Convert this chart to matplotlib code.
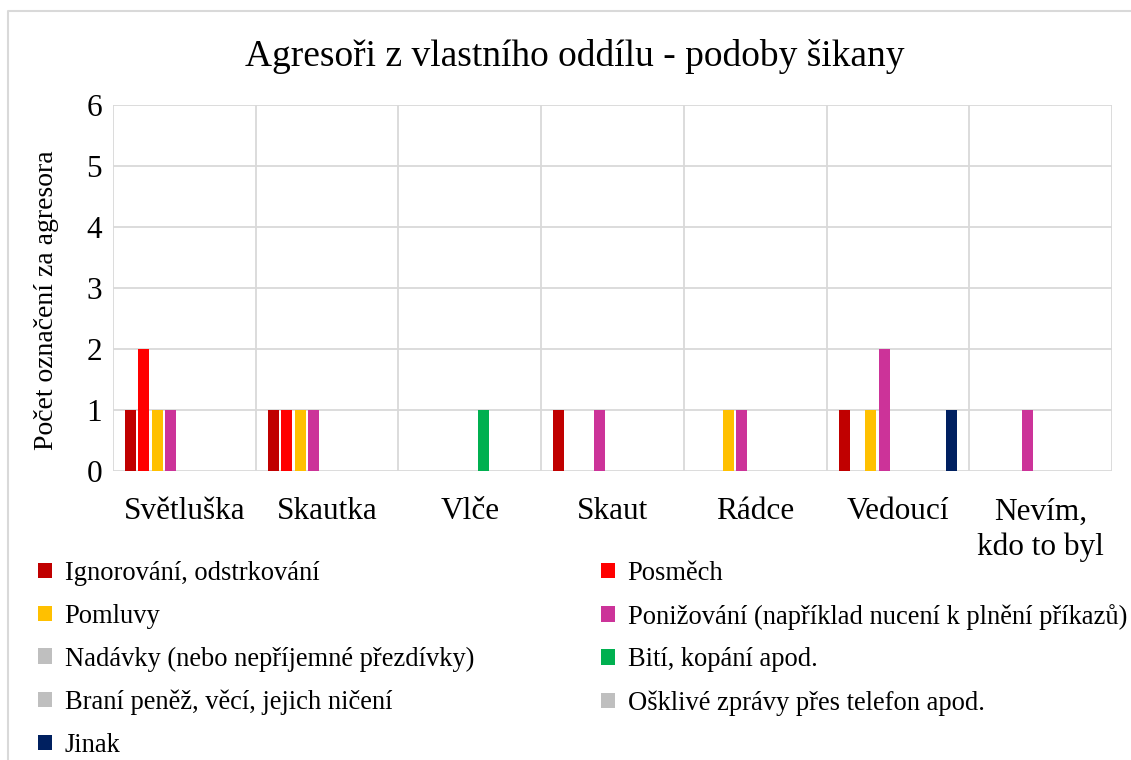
import numpy as np
import matplotlib
matplotlib.use('Agg')
import matplotlib.pyplot as plt
from matplotlib.patches import Patch
from matplotlib.lines import Line2D

plt.rcParams['font.family'] = ['Liberation Serif', 'DejaVu Serif']

# Data
categories = ['Světluška', 'Skautka', 'Vlče', 'Skaut', 'Rádce', 'Vedoucí', 'Nevím,\nkdo to byl']
series_names = [
    'Ignorování, odstrkování',
    'Posměch',
    'Pomluvy',
    'Ponižování (například nucení k plnění příkazů)',
    'Nadávky (nebo nepříjemné přezdívky)',
    'Bití, kopání apod.',
    'Braní peněž, věcí, jejich ničení',
    'Ošklivé zprávy přes telefon apod.',
    'Jinak',
]
ignorovani = [1, 1, 0, 1, 0, 1, 0]
posmech = [2, 1, 0, 0, 0, 0, 0]
pomluvy = [1, 1, 0, 0, 1, 1, 0]
ponizovani = [1, 1, 0, 1, 1, 2, 1]
nadavky = [0, 0, 0, 0, 0, 0, 0]
biti = [0, 0, 1, 0, 0, 0, 0]
brani = [0, 0, 0, 0, 0, 0, 0]
osklive = [0, 0, 0, 0, 0, 0, 0]
jinak = [0, 0, 0, 0, 0, 1, 0]
colors = ['#C00000', '#FF0000', '#FFC000', '#CC3399', '#BFBFBF',
          '#00B050', '#BFBFBF', '#BFBFBF', '#002060']

values = [ignorovani, posmech, pomluvy, ponizovani, nadavky, biti, brani, osklive, jinak]

fig = plt.figure(figsize=(11.31, 7.6), dpi=100)
ax = fig.add_axes([0.0999, 0.3803, 0.8833, 0.4815])

x = np.arange(len(categories))
slot = 13.5 / 143
bw = 11 / 143
for i, (vals, col) in enumerate(zip(values, colors)):
    ax.bar(x + (i - 4) * slot, vals, width=bw, color=col, zorder=3)

grid_col = '#D9D9D9'
ax.set_xlim(-0.5, len(categories) - 0.5)
ax.set_ylim(0, 6)
ax.set_yticks(range(0, 7))
for yv in range(0, 7):
    ax.axhline(yv, color=grid_col, lw=1.3, zorder=1)
for xv in np.arange(-0.5, len(categories), 1):
    ax.axvline(xv, color=grid_col, lw=1.3, zorder=1)
for s in ax.spines.values():
    s.set_visible(False)
ax.set_xticks(x)
ax.set_xticklabels(categories, fontsize=22.5, linespacing=1.27, va='top')
ax.tick_params(axis='both', length=0, labelsize=22.5)
ax.tick_params(axis='x', pad=19)
ax.tick_params(axis='y', pad=8)

ax.set_ylabel('Počet označení za agresora', fontsize=20)
ax.yaxis.set_label_coords(-0.054, 0.467)
fig.text(0.508, 1 - 57 / 760, 'Agresoři z vlastního oddílu - podoby šikany',
         fontsize=27, ha='center', va='center')

# legend in two columns (row order like the original)
handles = [Patch(facecolor=c, edgecolor='none') for c in colors]
left_idx = [0, 2, 4, 6, 8]
right_idx = [1, 3, 5, 7]
common = dict(frameon=False, fontsize=19.1, handlelength=0.53, handleheight=0.53,
              handletextpad=0.47, labelspacing=0.67, borderpad=0, borderaxespad=0,
              loc='upper left')
fig.legend([handles[i] for i in left_idx], [series_names[i] for i in left_idx],
           bbox_to_anchor=(38 / 1131, 1 - 561 / 760), **common)
fig.legend([handles[i] for i in right_idx], [series_names[i] for i in right_idx],
           bbox_to_anchor=(601 / 1131, 1 - 561 / 760), **common)

# outer chart border (cropped on right and bottom)
fig.add_artist(Line2D([8 / 1131, 8 / 1131, 1.0], [0.0, 1 - 11 / 760, 1 - 11 / 760],
                      transform=fig.transFigure, color=grid_col, lw=1.5))

fig.savefig('out.png', dpi=100)
